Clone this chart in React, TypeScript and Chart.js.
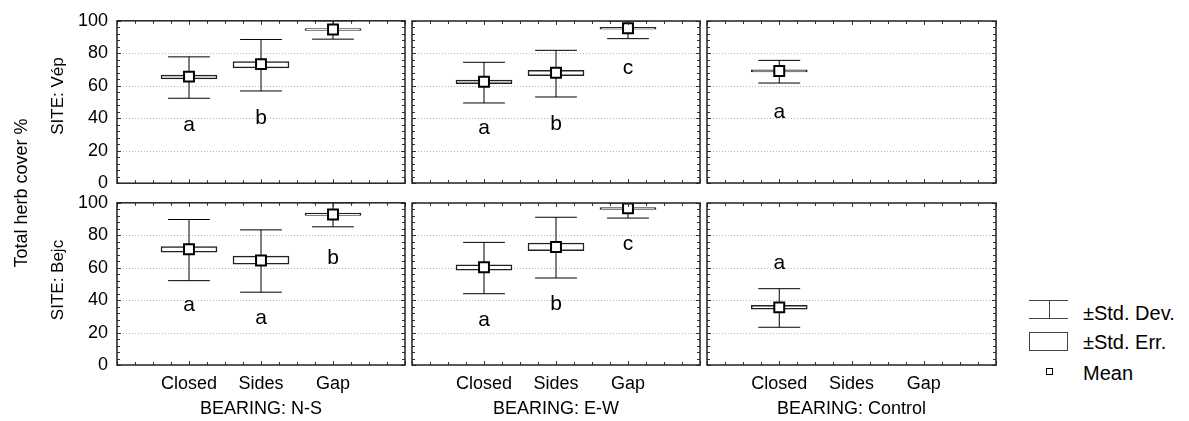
import React, { useEffect, useRef } from 'react';
import { Chart, registerables } from 'chart.js';

Chart.register(...registerables);

const categories = ['Closed', 'Sides', 'Gap'];
const bearings = ['N-S', 'E-W', 'Control'];
const sites = ['Vép', 'Bejc'];
const yTicks = [0, 20, 40, 60, 80, 100];

// SITE: Vép
const vepNSMean = [65.6, 73.3, 94.6];
const vepNSSeLow = [64.2, 71.0, 94.0];
const vepNSSeHigh = [66.5, 74.9, 95.2];
const vepNSSdLow = [52.3, 56.8, 88.7];
const vepNSSdHigh = [77.8, 88.5, 100];
const vepNSLetters = ['a', 'b', ''];
const vepNSLetterY = [32.3, 36.4, null];

const vepEWMean = [62.5, 68.1, 95.5];
const vepEWSeLow = [61.3, 66.2, 94.9];
const vepEWSeHigh = [63.6, 69.6, 96.1];
const vepEWSdLow = [49.4, 53.1, 89.1];
const vepEWSdHigh = [74.5, 81.9, 100];
const vepEWLetters = ['a', 'b', 'c'];
const vepEWLetterY = [30.2, 32.7, 67.3];

const vepCtrlMean = [69.1, null, null];
const vepCtrlSeLow = [68.5, null, null];
const vepCtrlSeHigh = [69.8, null, null];
const vepCtrlSdLow = [61.7, null, null];
const vepCtrlSdHigh = [75.7, null, null];
const vepCtrlLetters = ['a', '', ''];
const vepCtrlLetterY = [39.9, null, null];

// SITE: Bejc
const bejcNSMean = [71.4, 64.4, 92.8];
const bejcNSSeLow = [69.6, 62.2, 92.2];
const bejcNSSeHigh = [73.0, 67.1, 93.6];
const bejcNSSdLow = [52.0, 44.9, 85.2];
const bejcNSSdHigh = [89.7, 83.3, 100];
const bejcNSLetters = ['a', 'a', 'b'];
const bejcNSLetterY = [33.5, 25.3, 62.3];

const bejcEWMean = [60.3, 72.8, 96.7];
const bejcEWSeLow = [58.6, 70.6, 96.1];
const bejcEWSeHigh = [61.9, 75.3, 97.1];
const bejcEWSdLow = [44.0, 53.7, 90.7];
const bejcEWSdHigh = [75.7, 91.2, 100];
const bejcEWLetters = ['a', 'b', 'c'];
const bejcEWLetterY = [24.1, 34.0, 71.0];

const bejcCtrlMean = [35.6, null, null];
const bejcCtrlSeLow = [34.4, null, null];
const bejcCtrlSeHigh = [36.8, null, null];
const bejcCtrlSdLow = [23.3, null, null];
const bejcCtrlSdHigh = [47.1, null, null];
const bejcCtrlLetters = ['a', '', ''];
const bejcCtrlLetterY = [59.1, null, null];

type Panel = {
  mean: (number | null)[];
  seLow: (number | null)[];
  seHigh: (number | null)[];
  sdLow: (number | null)[];
  sdHigh: (number | null)[];
  letters: string[];
  letterY: (number | null)[];
};

const panels: Panel[][] = [
  [
    { mean: vepNSMean, seLow: vepNSSeLow, seHigh: vepNSSeHigh, sdLow: vepNSSdLow, sdHigh: vepNSSdHigh, letters: vepNSLetters, letterY: vepNSLetterY },
    { mean: vepEWMean, seLow: vepEWSeLow, seHigh: vepEWSeHigh, sdLow: vepEWSdLow, sdHigh: vepEWSdHigh, letters: vepEWLetters, letterY: vepEWLetterY },
    { mean: vepCtrlMean, seLow: vepCtrlSeLow, seHigh: vepCtrlSeHigh, sdLow: vepCtrlSdLow, sdHigh: vepCtrlSdHigh, letters: vepCtrlLetters, letterY: vepCtrlLetterY },
  ],
  [
    { mean: bejcNSMean, seLow: bejcNSSeLow, seHigh: bejcNSSeHigh, sdLow: bejcNSSdLow, sdHigh: bejcNSSdHigh, letters: bejcNSLetters, letterY: bejcNSLetterY },
    { mean: bejcEWMean, seLow: bejcEWSeLow, seHigh: bejcEWSeHigh, sdLow: bejcEWSdLow, sdHigh: bejcEWSdHigh, letters: bejcEWLetters, letterY: bejcEWLetterY },
    { mean: bejcCtrlMean, seLow: bejcCtrlSeLow, seHigh: bejcCtrlSeHigh, sdLow: bejcCtrlSdLow, sdHigh: bejcCtrlSdHigh, letters: bejcCtrlLetters, letterY: bejcCtrlLetterY },
  ],
];

// layout / style constants
const FONT = 'Arial, "Liberation Sans", sans-serif';
const COL_LEFT = [117, 412, 707];
const COL_WIDTH = [288, 288, 289];
const ROW_TOP = [21, 203];
const PLOT_H = 162;
const CAP_HALF = 0.29;
const BOX_PX = 56;

function PanelChart({ panel, row, col }: { panel: Panel; row: number; col: number }) {
  const ref = useRef<HTMLCanvasElement | null>(null);
  const L = col === 0 ? 117 : 4;
  const T = 14;
  const R = 4;
  const B = row === 1 ? 40 : 4;
  const w = COL_WIDTH[col] + L + R;
  const h = PLOT_H + T + B;
  const left = COL_LEFT[col] - L;
  const top = ROW_TOP[row] - T;

  useEffect(() => {
    const canvas = ref.current;
    if (!canvas) return;
    const idx = [0, 1, 2].filter((i) => panel.mean[i] != null);
    const whiskers: any[] = [];
    idx.forEach((i) => {
      const x = i + 1;
      whiskers.push({ x, y: panel.sdLow[i] }, { x, y: panel.sdHigh[i] }, { x, y: null });
      whiskers.push({ x: x - CAP_HALF, y: panel.sdHigh[i] }, { x: x + CAP_HALF, y: panel.sdHigh[i] }, { x, y: null });
      whiskers.push({ x: x - CAP_HALF, y: panel.sdLow[i] }, { x: x + CAP_HALF, y: panel.sdLow[i] }, { x, y: null });
    });
    const boxes = idx.map((i) => ({ x: i + 1, y: [panel.seLow[i], panel.seHigh[i]] }));
    const means = idx.map((i) => ({ x: i + 1, y: panel.mean[i] }));

    const framePlugin = {
      id: 'frame' + row + col,
      beforeDatasetsDraw(chart: any) {
        const { ctx, chartArea, scales } = chart;
        ctx.save();
        ctx.strokeStyle = '#b5b5b5';
        ctx.lineWidth = 1;
        ctx.setLineDash([1, 2]);
        yTicks.forEach((v) => {
          if (v === 0 || v === 100) return;
          const py = Math.round(scales.y.getPixelForValue(v)) + 0.5;
          ctx.beginPath();
          ctx.moveTo(chartArea.left, py);
          ctx.lineTo(chartArea.right, py);
          ctx.stroke();
        });
        ctx.restore();
      },
      afterDatasetsDraw(chart: any) {
        const { ctx, chartArea, scales } = chart;
        const { left: l, top: t, right: r, bottom: b } = chartArea;
        ctx.save();
        // letters
        ctx.font = '21px ' + FONT;
        ctx.fillStyle = '#000';
        ctx.textAlign = 'center';
        ctx.textBaseline = 'alphabetic';
        panel.letters.forEach((txt, i) => {
          const ly = panel.letterY[i];
          if (txt && ly != null) {
            ctx.fillText(txt, scales.x.getPixelForValue(i + 1), scales.y.getPixelForValue(ly));
          }
        });
        // inner ticks
        ctx.strokeStyle = '#333';
        ctx.lineWidth = 1;
        ctx.beginPath();
        for (let v = 0; v <= 4.001; v += 0.25) {
          const px = Math.round(scales.x.getPixelForValue(v)) + 0.5;
          const len = Math.abs(v - Math.round(v)) < 0.01 ? 4 : 3;
          ctx.moveTo(px, t);
          ctx.lineTo(px, t + len);
          ctx.moveTo(px, b);
          ctx.lineTo(px, b - len);
        }
        for (let v = 0; v <= 100; v += 4) {
          const py = Math.round(scales.y.getPixelForValue(v)) + 0.5;
          const len = v % 20 === 0 ? 4 : 3;
          ctx.moveTo(l, py);
          ctx.lineTo(l + len, py);
          ctx.moveTo(r, py);
          ctx.lineTo(r - len, py);
        }
        ctx.stroke();
        // frame
        ctx.strokeStyle = '#222';
        ctx.lineWidth = 1.5;
        ctx.strokeRect(l, t, r - l, b - t);
        ctx.restore();
      },
    };

    const chart = new Chart(canvas, {
      type: 'bar',
      data: {
        datasets: [
          {
            type: 'line',
            label: 'Mean',
            data: means as any,
            showLine: false,
            pointStyle: 'rect',
            pointRadius: 7,
            pointBorderWidth: 2,
            pointBackgroundColor: '#ffffff',
            pointBorderColor: '#000000',
            order: 0,
          } as any,
          {
            type: 'bar',
            label: '±Std. Err.',
            data: boxes as any,
            barThickness: BOX_PX,
            backgroundColor: '#ffffff',
            borderColor: '#222222',
            borderWidth: 1.5,
            borderSkipped: false,
            order: 1,
          } as any,
          {
            type: 'line',
            label: '±Std. Dev.',
            data: whiskers as any,
            borderColor: '#000000',
            borderWidth: 1,
            pointRadius: 0,
            spanGaps: false,
            fill: false,
            tension: 0,
            order: 2,
          } as any,
        ],
      },
      options: {
        responsive: false,
        maintainAspectRatio: false,
        animation: false,
        events: [],
        layout: { padding: { left: 0, top: T, right: R, bottom: 0 } },
        plugins: { legend: { display: false }, tooltip: { enabled: false }, title: { display: false } },
        scales: {
          x: {
            type: 'linear',
            min: 0,
            max: 4,
            offset: false,
            grid: { display: false, drawTicks: false, offset: false },
            border: { display: false },
            afterBuildTicks: (s: any) => {
              s.ticks = [1, 2, 3].map((v) => ({ value: v }));
            },
            afterFit: (s: any) => {
              s.height = B;
            },
            ticks: {
              display: row === 1,
              autoSkip: false,
              maxRotation: 0,
              padding: 8,
              color: '#000',
              font: { family: FONT, size: 18 },
              callback: (v: any) => categories[Number(v) - 1] ?? '',
            },
          },
          y: {
            type: 'linear',
            min: 0,
            max: 100,
            grid: { display: false, drawTicks: false },
            border: { display: false },
            afterFit: (s: any) => {
              s.width = L;
            },
            ticks: {
              display: col === 0,
              stepSize: 20,
              padding: 9,
              color: '#000',
              font: { family: FONT, size: 18 },
            },
          },
        },
      } as any,
      plugins: [framePlugin],
    });

    // make the plot area exactly the wanted size, then place the canvas so it lands on the grid
    for (let k = 0; k < 4; k++) {
      const a = chart.chartArea;
      const dh = PLOT_H - (a.bottom - a.top);
      const dw = COL_WIDTH[col] - (a.right - a.left);
      if (Math.abs(dh) < 0.5 && Math.abs(dw) < 0.5) break;
      chart.resize(Math.round(chart.width + dw), Math.round(chart.height + dh));
    }
    const a = chart.chartArea;
    canvas.style.left = Math.round(COL_LEFT[col] - a.left) + 'px';
    canvas.style.top = Math.round(ROW_TOP[row] - a.top) + 'px';

    return () => chart.destroy();
  }, []);

  return (
    <canvas
      ref={ref}
      width={w}
      height={h}
      style={{ position: 'absolute', left, top, width: w, height: h }}
    />
  );
}

const textBase: React.CSSProperties = {
  position: 'absolute',
  fontFamily: FONT,
  color: '#000',
  whiteSpace: 'nowrap',
  lineHeight: 1,
};

export default function App() {
  return (
    <div
      style={{
        position: 'absolute',
        left: 0,
        top: 0,
        width: 1189,
        height: 421,
        overflow: 'hidden',
        background: '#fff',
      }}
    >
      {panels.map((rowPanels, r) =>
        rowPanels.map((p, c) => <PanelChart key={r + '-' + c} panel={p} row={r} col={c} />)
      )}
      <div
        style={{
          ...textBase,
          left: 21,
          top: 193,
          fontSize: 18,
          transform: 'translate(-50%, -50%) rotate(-90deg)',
        }}
      >
        Total herb cover %
      </div>
      {sites.map((s, r) => (
        <div
          key={s}
          style={{
            ...textBase,
            left: 57,
            top: r === 0 ? 96 : 280,
            fontSize: 17,
            transform: 'translate(-50%, -50%) rotate(-90deg)',
          }}
        >
          {'SITE: ' + s}
        </div>
      ))}
      {bearings.map((b, c) => (
        <div
          key={b}
          style={{
            ...textBase,
            left: COL_LEFT[c] + COL_WIDTH[c] / 2,
            top: 408,
            fontSize: 18,
            transform: 'translate(-50%, -50%)',
          }}
        >
          {'BEARING: ' + b}
        </div>
      ))}
      {/* legend */}
      <div style={{ position: 'absolute', left: 1029, top: 300, width: 39, height: 0, borderTop: '1px solid #444' }} />
      <div style={{ position: 'absolute', left: 1029, top: 318, width: 39, height: 0, borderTop: '1px solid #444' }} />
      <div style={{ position: 'absolute', left: 1049, top: 300, width: 0, height: 18, borderLeft: '1px solid #444' }} />
      <div style={{ ...textBase, left: 1083, top: 313, fontSize: 20, transform: 'translateY(-50%)' }}>±Std. Dev.</div>
      <div
        style={{
          position: 'absolute',
          left: 1029,
          top: 332,
          width: 37,
          height: 17,
          border: '1px solid #444',
          background: '#fff',
        }}
      />
      <div style={{ ...textBase, left: 1083, top: 342, fontSize: 20, transform: 'translateY(-50%)' }}>±Std. Err.</div>
      <div
        style={{
          position: 'absolute',
          left: 1046,
          top: 368,
          width: 5,
          height: 5,
          border: '1.5px solid #000',
          background: '#fff',
        }}
      />
      <div style={{ ...textBase, left: 1083, top: 373, fontSize: 20, transform: 'translateY(-50%)' }}>Mean</div>
    </div>
  );
}
